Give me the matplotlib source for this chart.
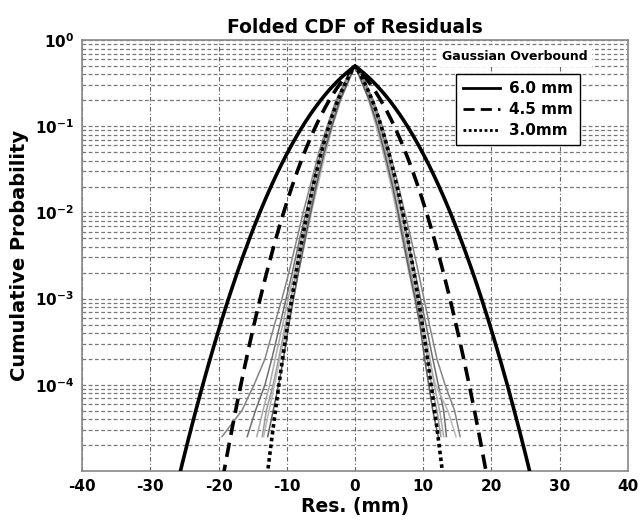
import math
import numpy as np
import matplotlib
matplotlib.use("Agg")
import matplotlib.pyplot as plt
from matplotlib.ticker import FixedLocator, LogLocator, NullFormatter

# gaussian overbound sigmas (mm)
sigmas = [6.0, 4.5, 3.0]
sigma_labels = ["6.0 mm", "4.5 mm", "3.0mm"]
sigma_styles = ["-", (0, (4, 2.2)), (0, (1, 0.9))]

probs = [0.5, 0.2, 0.1, 0.05, 0.02, 0.01, 5e-3, 2e-3, 1e-3, 5e-4, 2e-4, 1e-4, 5e-5, 2.5e-5]
right_x = [
    [0.2, 2.2, 3.4, 4.4, 5.6, 6.4, 7.2, 8.2, 9.0, 9.8, 10.6, 11.2, 12.0, 12.6],
    [0.3, 2.5, 3.7, 4.8, 6.0, 6.9, 7.7, 8.8, 9.6, 10.4, 11.4, 12.2, 13.0, 13.4],
    [0.1, 2.0, 3.1, 4.1, 5.3, 6.1, 6.9, 7.9, 8.7, 9.6, 10.8, 11.8, 13.6, 14.8],
    [0.4, 2.7, 4.0, 5.1, 6.4, 7.3, 8.2, 9.3, 10.1, 10.9, 12.0, 13.2, 14.6, 15.4],
    [0.2, 2.3, 3.5, 4.6, 5.8, 6.7, 7.5, 8.5, 9.3, 10.0, 11.0, 11.6, 12.4, 13.0],
    [0.0, 2.1, 3.3, 4.3, 5.5, 6.3, 7.0, 8.0, 8.8, 9.5, 10.2, 10.8, 11.4, 12.2],
]
left_x = [
    [-0.2, -2.3, -3.5, -4.6, -5.8, -6.7, -7.5, -8.6, -9.4, -10.2, -11.2, -12.0, -13.0, -13.6],
    [-0.3, -2.6, -3.9, -5.0, -6.3, -7.2, -8.1, -9.2, -10.1, -11.0, -12.2, -13.2, -14.6, -15.8],
    [-0.1, -2.1, -3.3, -4.3, -5.5, -6.4, -7.2, -8.3, -9.1, -10.0, -11.0, -11.8, -12.6, -13.4],
    [-0.4, -2.8, -4.1, -5.3, -6.6, -7.6, -8.5, -9.7, -10.7, -11.8, -13.2, -14.8, -16.6, -19.5],
    [-0.2, -2.4, -3.6, -4.7, -6.0, -6.9, -7.8, -8.9, -9.8, -10.6, -11.7, -12.5, -13.5, -14.4],
    [0.0, -2.2, -3.4, -4.5, -5.7, -6.5, -7.3, -8.3, -9.0, -9.7, -10.5, -11.2, -12.0, -12.8],
]
gray_colors = ["#9a9a9a", "#6e6e6e", "#b8b8b8", "#858585", "#a8a8a8", "#5e5e5e"]

xticks = [-40, -30, -20, -10, 0, 10, 20, 30, 40]
yticks = [1e-4, 1e-3, 1e-2, 1e-1, 1e0]
ytick_labels = [r"$\mathbf{10^{-4}}$", r"$\mathbf{10^{-3}}$", r"$\mathbf{10^{-2}}$",
                r"$\mathbf{10^{-1}}$", r"$\mathbf{10^{0}}$"]

plt.rcParams['font.family'] = ['DejaVu Sans']
plt.rcParams['mathtext.fontset'] = 'dejavusans'

fig = plt.figure(figsize=(6.42, 5.22), dpi=100)
ax = fig.add_axes([0.128, 0.098, 0.850, 0.825])


def folded_gauss(x, s):
    return np.array([0.5 * math.erfc(abs(v) / (s * math.sqrt(2))) for v in x])


# empirical curves
for xr, xl, c in zip(right_x, left_x, gray_colors):
    ax.plot(xr, probs, color=c, lw=1.1, zorder=3)
    ax.plot(xl, probs, color=c, lw=1.1, zorder=3)

xs = np.linspace(-40, 40, 1601)
for s, lab, ls in zip(sigmas, sigma_labels, sigma_styles):
    ax.plot(xs, folded_gauss(xs, s), color="black", lw=2.6, linestyle=ls, label=lab, zorder=4)

ax.set_yscale("log")
ax.set_xlim(-40, 40)
ax.set_ylim(1e-5, 1e0)
ax.set_xticks(xticks)
ax.set_xticklabels([str(t) for t in xticks], fontsize=11, fontweight="bold")
ax.yaxis.set_major_locator(FixedLocator(yticks))
ax.set_yticklabels(ytick_labels, fontsize=11)
ax.yaxis.set_minor_locator(LogLocator(base=10, subs=np.arange(2, 10)))
ax.yaxis.set_minor_formatter(NullFormatter())
ax.tick_params(axis="both", which="both", length=0, pad=6)

ax.grid(True, axis="x", which="major", color="#666666", lw=0.8, linestyle=(0, (4, 2, 1, 2)))
ax.grid(True, axis="y", which="both", color="#777777", lw=0.9, linestyle=(0, (3, 2)))
for sp in ax.spines.values():
    sp.set_color("#888888")
    sp.set_linewidth(1.2)

ax.set_title("Folded CDF of Residuals", fontsize=13.5, fontweight="bold", pad=5)
ax.set_xlabel("Res. (mm)", fontsize=13.5, fontweight="bold", labelpad=2)
ax.set_ylabel("Cumulative Probability", fontsize=14, fontweight="bold", labelpad=4)

ax.text(0.793, 0.963, "Gaussian Overbound", transform=ax.transAxes, ha="center", va="center",
        fontsize=9, fontweight="bold", zorder=6,
        bbox=dict(facecolor="white", edgecolor="none", pad=3))
leg = ax.legend(loc="upper right", bbox_to_anchor=(0.912, 0.921), frameon=True, fancybox=False,
                prop={"size": 11, "weight": "bold"}, handlelength=2.4, handletextpad=0.6,
                labelspacing=0.4, borderpad=0.45, borderaxespad=0)
leg.get_frame().set_edgecolor("black")
leg.get_frame().set_linewidth(1.0)
leg.get_frame().set_alpha(1)
leg.set_zorder(7)
for h in leg.get_lines():
    h.set_linewidth(2.0)

fig.savefig("out.png", dpi=100)
